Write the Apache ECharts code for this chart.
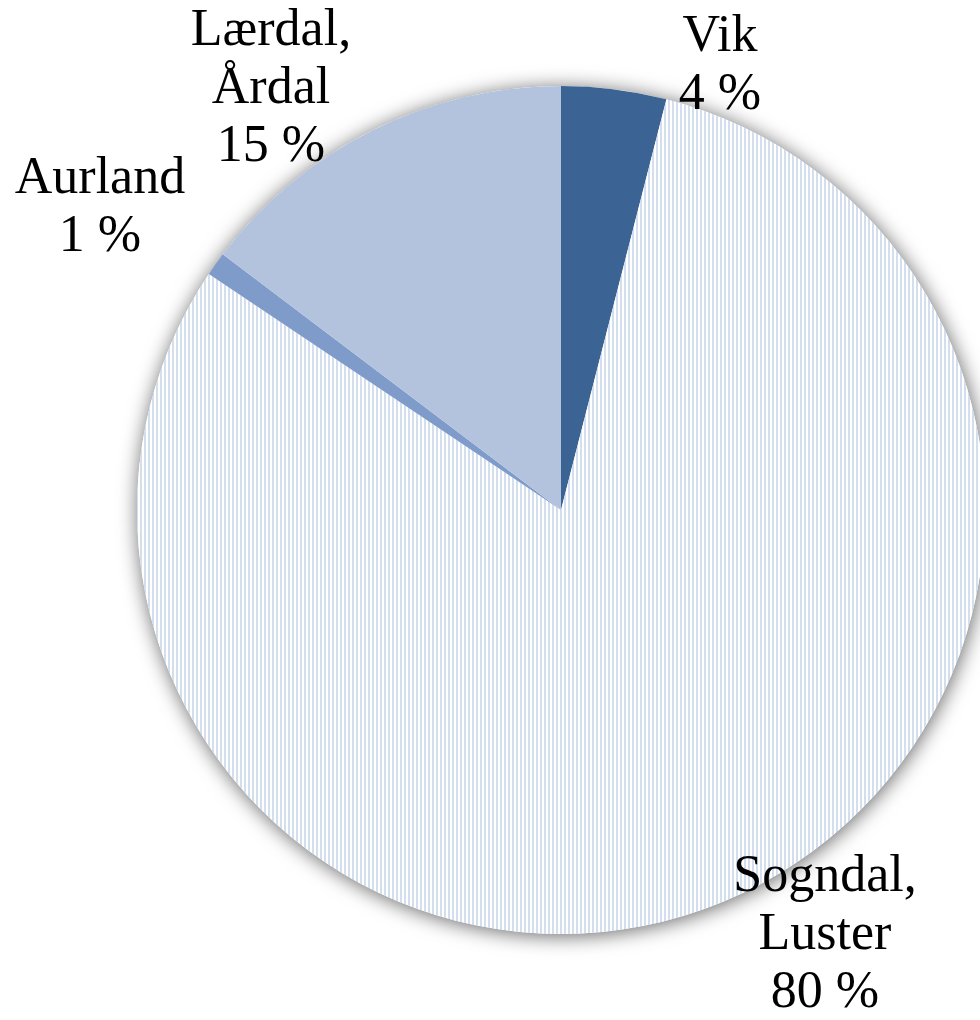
<!DOCTYPE html>
<html>
<head>
<meta charset="utf-8">
<script src="https://cdn.jsdelivr.net/npm/echarts@6/dist/echarts.min.js"></script>
<style>
html,body{margin:0;padding:0;background:#fff;}
#chart{width:980px;height:1020px;}
</style>
</head>
<body>
<div id="chart"></div>
<script>
// Data (clockwise from 12 o'clock)
const categories = ['Vik', 'Sogndal, Luster', 'Aurland', 'Lærdal, Årdal'];
const shares = [4.0, 80.4, 0.9, 14.7];

// Styling / layout (kept separate from data)
const sliceColors = ['#3b6394', null, '#7e9bc9', '#b3c3de'];
const labelCenters = {
  'Vik': [720, 66],
  'Sogndal, Luster': [825, 935],
  'Aurland': [100, 208],
  'Lærdal, Årdal': [271, 89]
};

function stripePattern() {
  const c = document.createElement('canvas');
  c.width = 4; c.height = 4;
  const g = c.getContext('2d');
  g.fillStyle = '#ffffff';
  g.fillRect(0, 0, 4, 4);
  g.fillStyle = '#d3deee';
  g.fillRect(0, 0, 2, 4);
  return { image: c, repeat: 'repeat' };
}

const chart = echarts.init(document.getElementById('chart'), null, { renderer: 'canvas' });
const center = [561, 510];
const radius = 424;

chart.setOption({
  backgroundColor: '#ffffff',
  animation: false,
  series: [
    {
      name: 'backdrop',
      type: 'pie',
      silent: true,
      z: 1,
      center: center,
      radius: radius,
      label: { show: false },
      labelLine: { show: false },
      itemStyle: {
        color: '#ffffff',
        borderWidth: 0,
        shadowBlur: 20,
        shadowOffsetX: 1,
        shadowOffsetY: 2,
        shadowColor: 'rgba(0,0,0,0.6)'
      },
      data: [{ value: 1, name: '' }]
    },
    {
      name: 'shares',
      type: 'pie',
      z: 2,
      center: center,
      radius: radius,
      startAngle: 90,
      clockwise: true,
      silent: true,
      itemStyle: { borderWidth: 0 },
      label: {
        show: true,
        position: 'outside',
        overflow: 'none',
        fontFamily: '"Liberation Serif", "Times New Roman", serif',
        fontSize: 52,
        lineHeight: 58,
        color: '#000000',
        align: 'center',
        formatter: function (p) {
          return p.name.replace(', ', ',\n') + '\n' + Math.round(p.percent) + ' %';
        }
      },
      labelLine: { show: false },
      labelLayout: function (params) {
        const name = categories[params.dataIndex];
        const pos = labelCenters[name];
        return { x: pos[0], y: pos[1], align: 'center', verticalAlign: 'middle' };
      },
      data: categories.map(function (name, i) {
        return {
          name: name,
          value: shares[i],
          itemStyle: { color: sliceColors[i] || stripePattern() }
        };
      })
    }
  ]
});
</script>
</body>
</html>
